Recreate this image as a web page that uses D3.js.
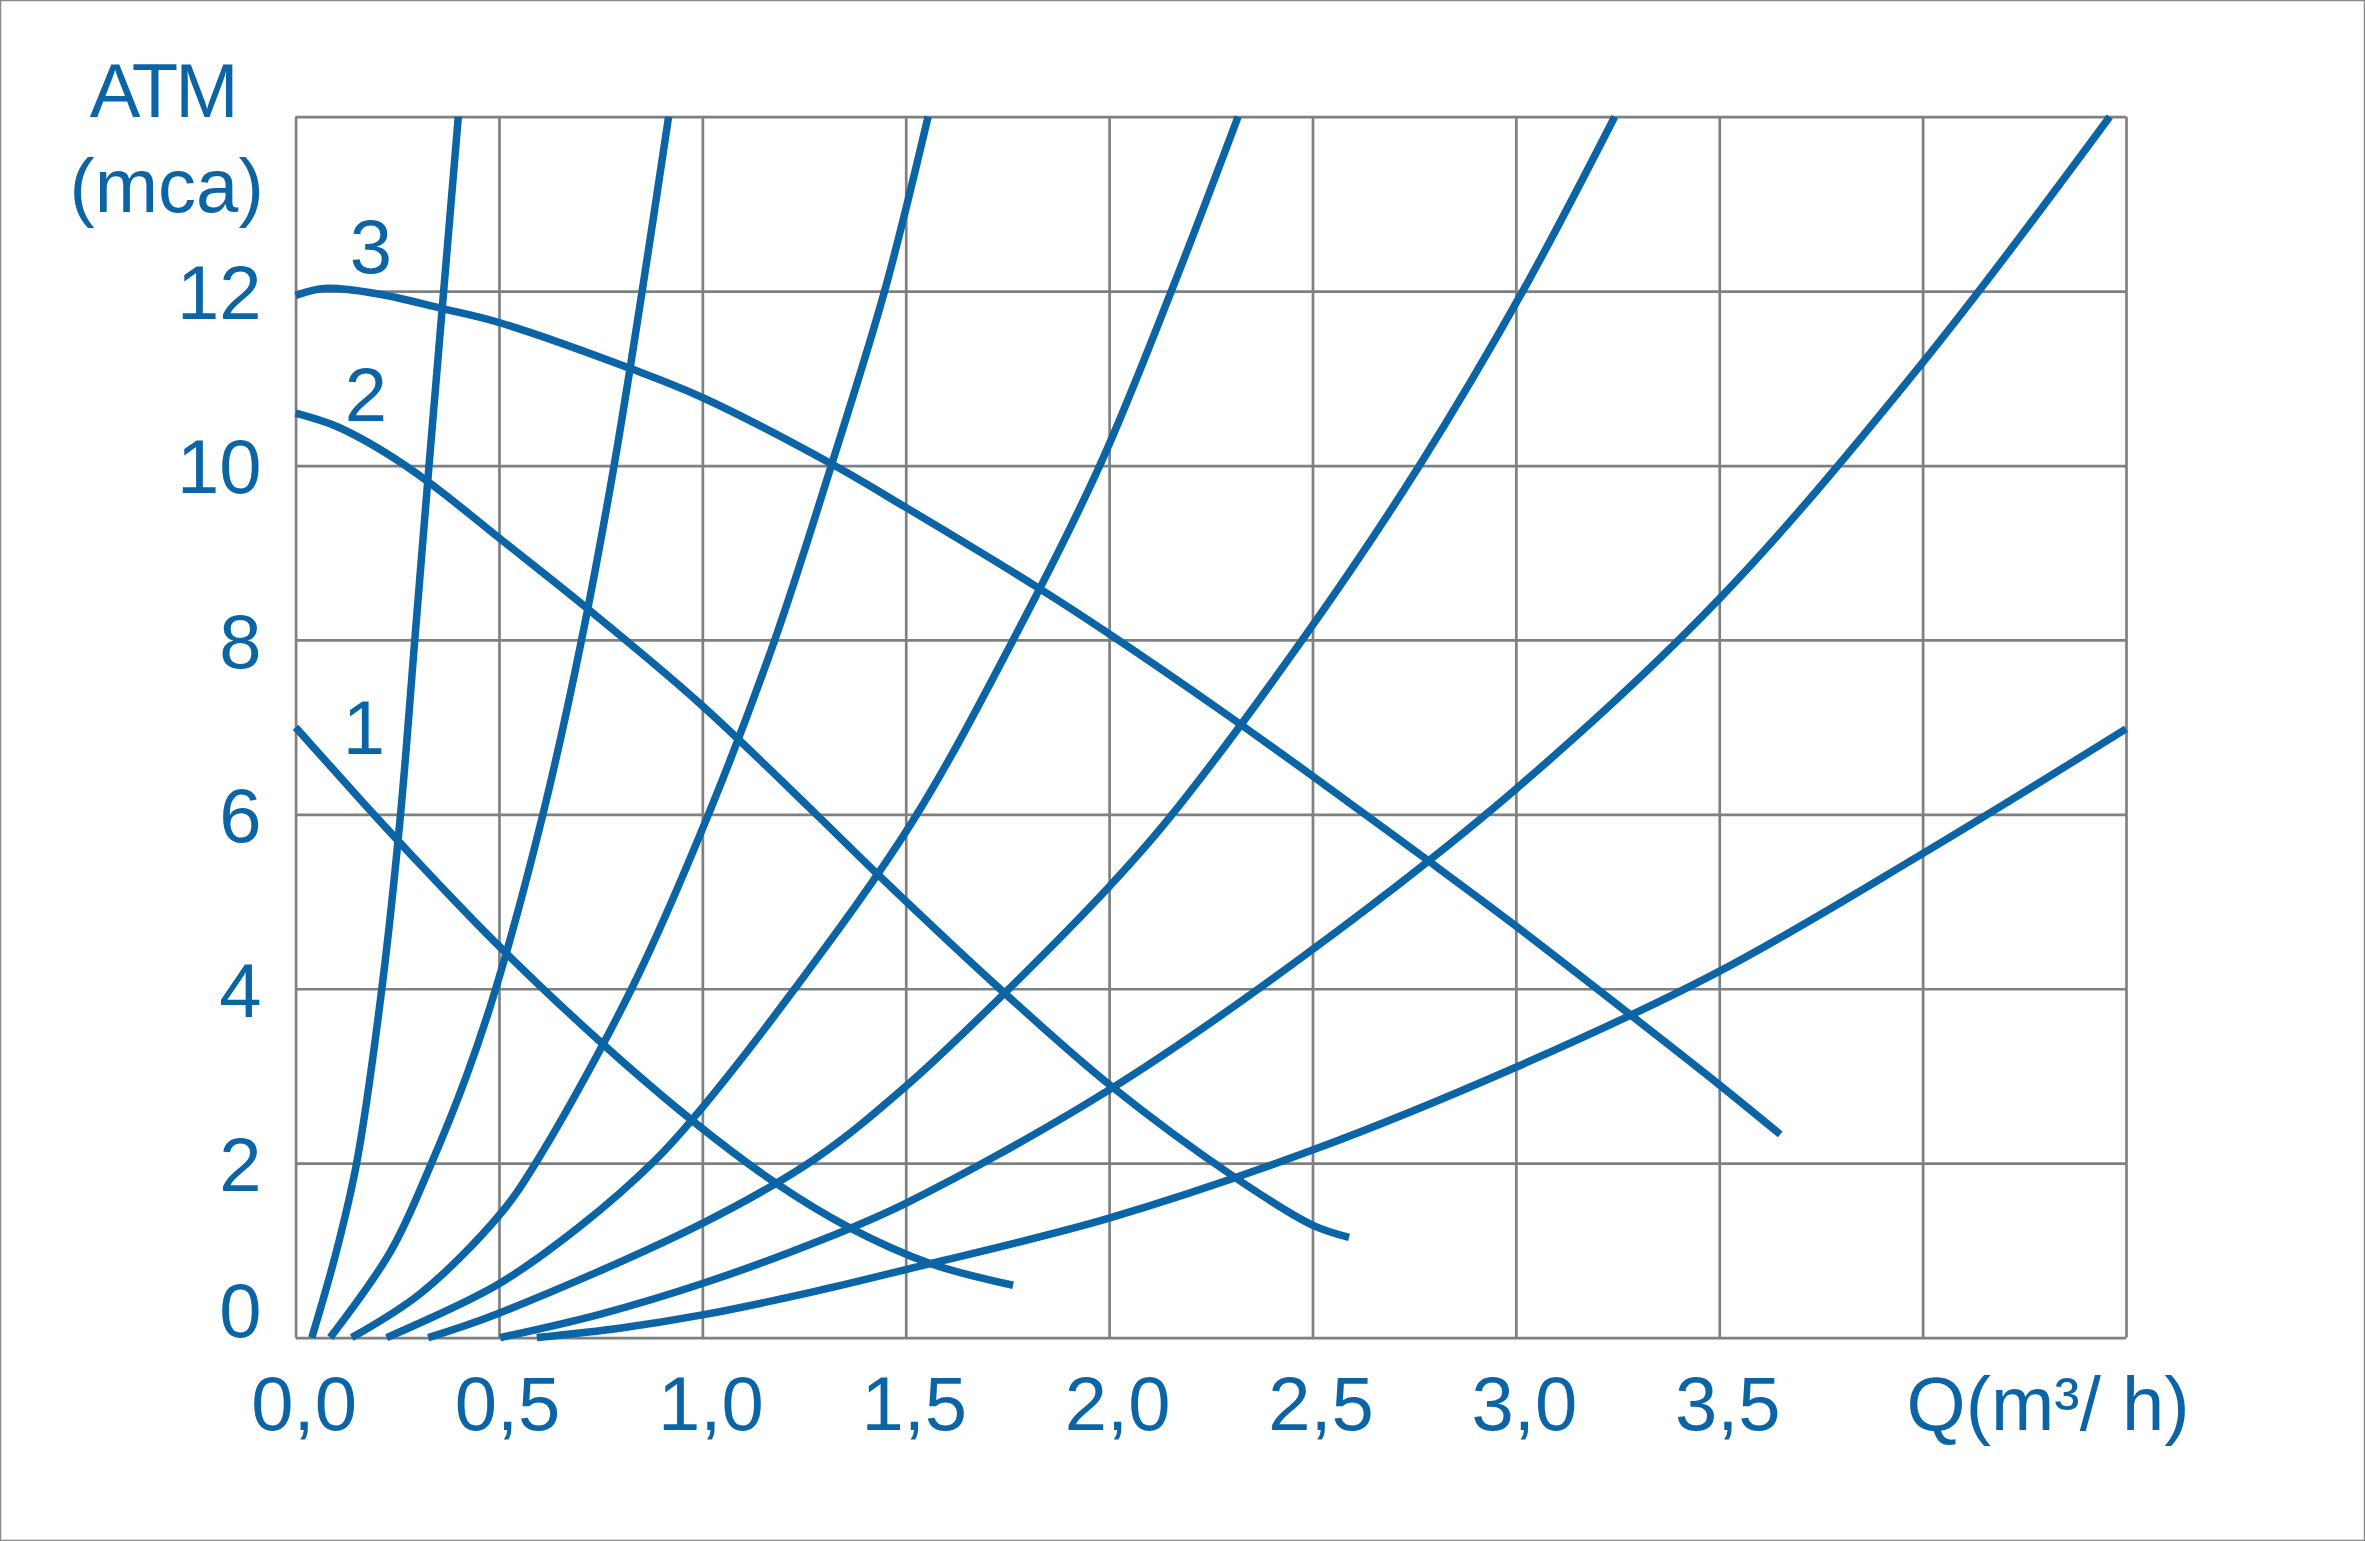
<!DOCTYPE html>
<html>
<head>
<meta charset="utf-8">
<script src="https://cdn.jsdelivr.net/npm/d3@7"></script>
<style>
  body { margin: 0; background: #fff; }
  text { font-family: "Liberation Sans", Arial, Helvetica, sans-serif; fill: #0a64a5; }
</style>
</head>
<body>
<div id="chart"></div>
<script>
// tick labels
var xTicks = [0, 0.5, 1, 1.5, 2, 2.5, 3, 3.5];
var yTicks = [0, 2, 4, 6, 8, 10, 12];

// pump curves (Q in m3/h, H in mca)
var pump1Q = [0, 0.2, 0.35, 0.5, 0.752, 0.975, 1.178, 1.358, 1.56, 1.764];
var pump1H = [7.0, 5.96, 5.21, 4.49, 3.38, 2.49, 1.78, 1.27, 0.85, 0.60];
var pump2Q = [0, 0.1, 0.22, 0.33, 0.5, 0.72, 0.994, 1.28, 1.436, 1.743, 2.006, 2.305, 2.5, 2.59];
var pump2H = [10.6, 10.45, 10.15, 9.8, 9.17, 8.35, 7.27, 6.0, 5.29, 3.95, 2.88, 1.85, 1.29, 1.15];
var pump3Q = [0, 0.07, 0.2, 0.36, 0.5, 0.83, 1.0, 1.317, 1.5, 1.825, 2.0, 2.272, 2.5, 2.79, 3.0, 3.26, 3.5, 3.65];
var pump3H = [11.95, 12.03, 11.97, 11.8, 11.64, 11.1, 10.78, 10.02, 9.52, 8.6, 8.07, 7.2, 6.44, 5.45, 4.72, 3.78, 2.9, 2.33];

// system curves
var sys1Q = [0.04, 0.101, 0.15, 0.212, 0.258, 0.293, 0.328, 0.364, 0.4];
var sys1H = [0, 1.0, 2.0, 4.0, 6.0, 8.0, 10.0, 12.0, 14];
var sys2Q = [0.085, 0.235, 0.334, 0.42, 0.492, 0.608, 0.703, 0.783, 0.852, 0.917];
var sys2H = [0, 1.0, 2.0, 3.0, 4.0, 6.0, 8.0, 10.0, 12.0, 14];
var sys3Q = [0.138, 0.308, 0.5, 0.59, 0.826, 1.015, 1.178, 1.317, 1.448, 1.555];
var sys3H = [0, 0.51, 1.4, 2.0, 4.0, 6.0, 8.0, 10.0, 12.0, 14];
var sys4Q = [0.224, 0.494, 0.7, 0.883, 0.975, 1.227, 1.518, 1.764, 1.977, 2.153, 2.317];
var sys4H = [0, 0.6, 1.28, 2.03, 2.5, 4.0, 5.93, 8.0, 10.0, 12.0, 14];
var sys5Q = [0.326, 0.5, 1.0, 1.277, 1.5, 1.743, 2.0, 2.143, 2.481, 2.763, 3.017, 3.243];
var sys5H = [0, 0.28, 1.31, 2.05, 2.88, 3.95, 5.17, 5.93, 8.04, 10.0, 12.0, 14];
var sys6Q = [0.503, 0.75, 1.0, 1.277, 1.5, 2.0, 2.5, 3.0, 3.5, 4.0, 4.46];
var sys6H = [0, 0.27, 0.62, 1.09, 1.54, 2.84, 4.45, 6.29, 8.47, 11.18, 14];
var sys7Q = [0.593, 0.8, 1.0, 1.277, 1.5, 2.0, 2.5, 3.0, 3.5, 4.0, 4.5];
var sys7H = [0, 0.11, 0.26, 0.53, 0.78, 1.37, 2.15, 3.1, 4.2, 5.55, 6.98];

// curve number labels
var curveNames = ["1", "2", "3"];
var curveNameQ = [0.168, 0.173, 0.185];
var curveNameH = [7.01, 10.82, 12.52];

var svgWidth = 2365;
var svgHeight = 1541;
var margin = { top: 116.7, right: 239, bottom: 203.4, left: 295.6 };
var width = svgWidth - margin.left - margin.right;
var height = svgHeight - margin.top - margin.bottom;
var blue = "#0a64a5";
var grey = "#7f8080";

var svg = d3.select("#chart").append("svg").attr("width", svgWidth).attr("height", svgHeight);

// outer frame
svg.append("rect").attr("x", 0.5).attr("y", 0.5).attr("width", svgWidth - 1).attr("height", svgHeight - 1)
  .attr("fill", "none").attr("stroke", "#8a8a8a").attr("stroke-width", 1.5);

var chartGroup = svg.append("g").attr("transform", `translate(${margin.left}, ${margin.top})`);

var xScale = d3.scaleLinear().domain([0, 4.5]).range([0, width]);
var yScale = d3.scaleLinear().domain([0, 14]).range([height, 0]);

// grid
var xGrid = d3.axisBottom(xScale).tickValues(d3.range(0, 4.51, 0.5)).tickSize(-height).tickFormat("");
var yGrid = d3.axisLeft(yScale).tickValues(d3.range(0, 14.1, 2)).tickSize(-width).tickFormat("");
chartGroup.append("g").attr("transform", `translate(0, ${height})`).call(xGrid)
  .call(g => g.select(".domain").remove())
  .selectAll("line").attr("stroke", grey).attr("stroke-width", 2.7);
chartGroup.append("g").call(yGrid)
  .call(g => g.select(".domain").remove())
  .selectAll("line").attr("stroke", grey).attr("stroke-width", 2.7);

// tick labels
var fmt = d => d3.format(".1f")(d).replace(".", ",");
var bottomAxis = d3.axisBottom(xScale).tickValues(xTicks).tickSize(0).tickPadding(0).tickFormat(fmt);
var xAxisG = chartGroup.append("g").attr("transform", `translate(0, ${height})`).call(bottomAxis);
xAxisG.select(".domain").remove();
xAxisG.selectAll("text").attr("font-size", 76).attr("fill", blue)
  .attr("x", 8).attr("y", 92).attr("dy", 0);

var leftAxis = d3.axisLeft(yScale).tickValues(yTicks).tickSize(0).tickPadding(0);
var yAxisG = chartGroup.append("g").call(leftAxis);
yAxisG.select(".domain").remove();
yAxisG.selectAll("text").attr("font-size", 76).attr("fill", blue)
  .attr("x", -34).attr("dy", d => d === 0 ? "-0.02em" : "0.36em");

// axis titles
chartGroup.append("text").attr("x", -133).attr("y", 0).attr("text-anchor", "middle")
  .attr("font-size", 76).attr("letter-spacing", -3).text("ATM");
chartGroup.append("text").attr("x", -129).attr("y", 95).attr("text-anchor", "middle")
  .attr("font-size", 76).text("(mca)");
chartGroup.append("text").attr("x", xScale(4) - 16).attr("y", height + 92)
  .attr("font-size", 76).text("Q(m³/ h)");

// curves
var line = d3.line().x(d => xScale(d[0])).y(d => yScale(d[1])).curve(d3.curveCatmullRom.alpha(0.5));
var curves = [
  [pump1Q, pump1H], [pump2Q, pump2H], [pump3Q, pump3H],
  [sys1Q, sys1H], [sys2Q, sys2H], [sys3Q, sys3H], [sys4Q, sys4H],
  [sys5Q, sys5H], [sys6Q, sys6H], [sys7Q, sys7H]
];
chartGroup.selectAll("path.curve").data(curves).enter().append("path").attr("class", "curve")
  .attr("d", c => line(d3.zip(c[0], c[1])))
  .attr("fill", "none").attr("stroke", blue).attr("stroke-width", 7.5);

// curve numbers
chartGroup.selectAll("text.cname").data(curveNames).enter().append("text").attr("class", "cname")
  .attr("x", (d, i) => xScale(curveNameQ[i])).attr("y", (d, i) => yScale(curveNameH[i]))
  .attr("dy", "0.36em").attr("text-anchor", "middle").attr("font-size", 76).text(d => d);
</script>
</body>
</html>
